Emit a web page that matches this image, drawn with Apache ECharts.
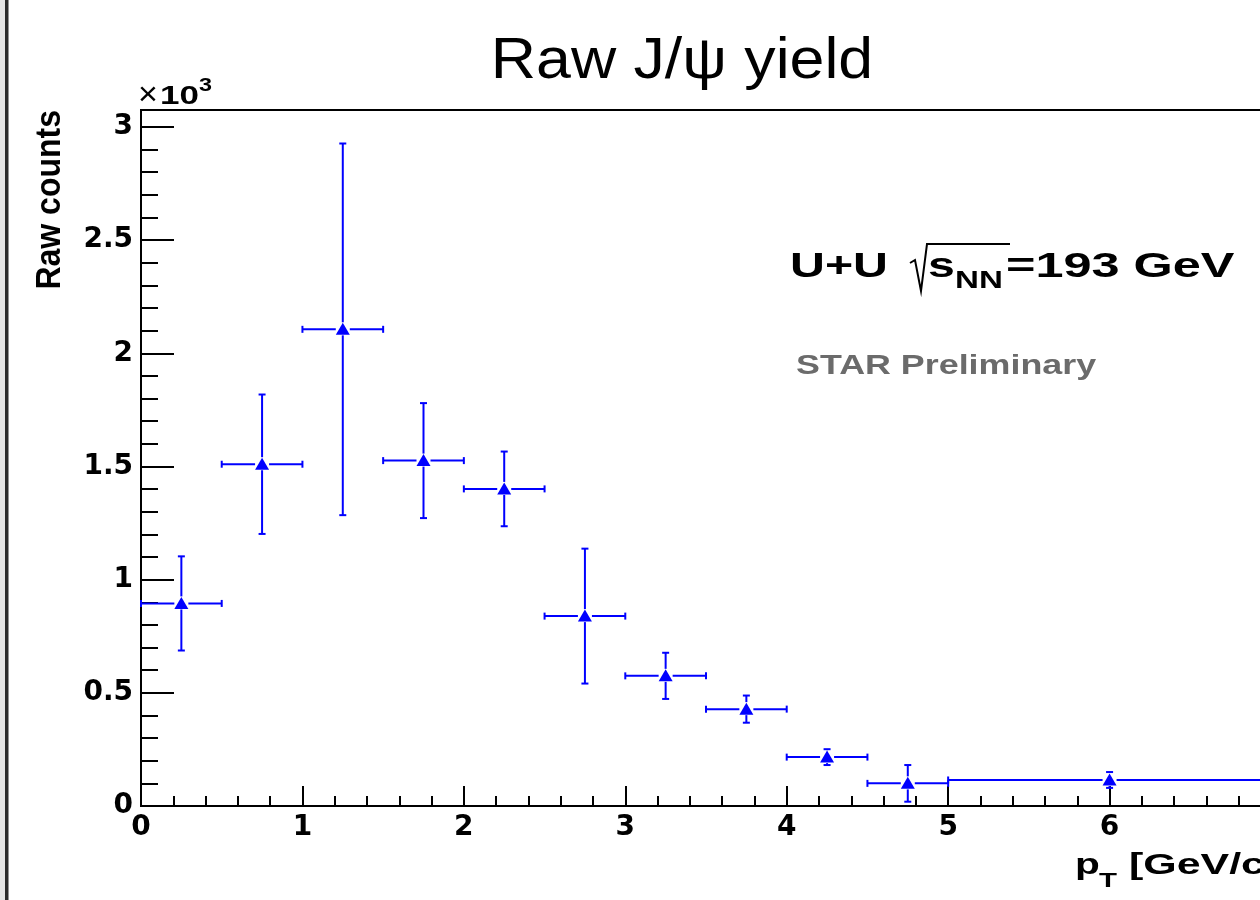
<!DOCTYPE html>
<html>
<head>
<meta charset="utf-8">
<script src="https://cdn.jsdelivr.net/npm/echarts@6/dist/echarts.min.js"></script>
<style>
html,body{margin:0;padding:0;background:#fff;}
#chart{width:1260px;height:900px;}
</style>
</head>
<body>
<div id="chart"></div>
<script>
// ---- data ----
const binLow  = [0, 0.5, 1, 1.5, 2, 2.5, 3, 3.5, 4, 4.5, 5];
const binHigh = [0.5, 1, 1.5, 2, 2.5, 3, 3.5, 4, 4.5, 5, 7];
const ptCenter = [0.25, 0.75, 1.25, 1.75, 2.25, 2.75, 3.25, 3.75, 4.25, 4.75, 6];
const rawCounts = [895, 1510, 2106, 1526, 1401, 839, 575, 428, 216, 100, 115];
const countErr  = [208, 308, 821, 254, 165, 298, 102, 60, 35, 81, 35];
const xTicks = [0, 1, 2, 3, 4, 5, 6, 7];
const yMax = 3075;

const SANS = "'Liberation Sans', Arial, Helvetica, sans-serif";
const BLUE = '#0000ff';

const seriesData = ptCenter.map((x, i) => [x, rawCounts[i], binLow[i], binHigh[i], countErr[i]]);

function renderItem(params, api) {
  const x = api.value(0), y = api.value(1), lo = api.value(2), hi = api.value(3), e = api.value(4);
  const c = api.coord([x, y]);
  const L = api.coord([lo, y]), R = api.coord([hi, y]);
  const T = api.coord([x, y + e]), B = api.coord([x, y - e]);
  const st = {stroke: BLUE, lineWidth: 2, fill: null};
  const cap = 3.5, g = 7;
  const ln = (x1, y1, x2, y2) => ({type: 'line', shape: {x1, y1, x2, y2}, style: st});
  const ch = [];
  if (c[0] - g > L[0]) ch.push(ln(L[0], c[1], c[0] - g, c[1]));
  if (R[0] > c[0] + g) ch.push(ln(c[0] + g, c[1], R[0], c[1]));
  if (T[1] < c[1] - 7) ch.push(ln(c[0], T[1], c[0], c[1] - 7));
  if (B[1] > c[1] + 6) ch.push(ln(c[0], c[1] + 6, c[0], B[1]));
  ch.push(ln(L[0], L[1] - cap, L[0], L[1] + cap));
  ch.push(ln(R[0], R[1] - cap, R[0], R[1] + cap));
  ch.push(ln(T[0] - cap, T[1], T[0] + cap, T[1]));
  ch.push(ln(B[0] - cap, B[1], B[0] + cap, B[1]));
  ch.push({type: 'polygon', shape: {points: [[c[0], c[1] - 6.5], [c[0] - 7, c[1] + 5.5], [c[0] + 7, c[1] + 5.5]]},
           style: {fill: BLUE, stroke: null}});
  return {type: 'group', children: ch};
}

function txt(x, y, text, font, opts) {
  opts = opts || {};
  return {
    type: 'text', x: x, y: y,
    rotation: opts.rotation || 0,
    scaleX: opts.scaleX || 1, scaleY: opts.scaleY || 1,
    style: {text: text, font: font, fill: opts.fill || '#000',
            align: opts.align || 'left', verticalAlign: opts.va || 'middle'}
  };
}

const chart = echarts.init(document.getElementById('chart'), null, {renderer: 'canvas'});
const option = {
  backgroundColor: '#fff',
  animation: false,
  grid: {left: 141, top: 110, width: 1130, height: 696, show: true, borderColor: '#000', borderWidth: 2,
         backgroundColor: 'transparent', containLabel: false, outerBoundsMode: 'none'},
  xAxis: {
    type: 'value', min: xTicks[0], max: xTicks[xTicks.length - 1], interval: 1,
    axisLine: {show: true, onZero: false, lineStyle: {color: '#000', width: 2}},
    axisTick: {show: true, inside: true, length: 20, lineStyle: {color: '#000', width: 2}},
    minorTick: {show: true, splitNumber: 5, length: 10, lineStyle: {color: '#000', width: 2}},
    splitLine: {show: false}, minorSplitLine: {show: false},
    axisLabel: {show: true, margin: 8, color: '#000', fontFamily: "'DejaVu Sans'", fontWeight: 'bold', fontSize: 28,
                formatter: v => String(v)}
  },
  yAxis: [{
    type: 'value', min: 0, max: yMax, interval: 500, position: 'left',
    axisLine: {show: true, onZero: false, lineStyle: {color: '#000', width: 2}},
    axisTick: {show: true, inside: true, length: 33, lineStyle: {color: '#000', width: 2}},
    splitLine: {show: false},
    axisLabel: {show: true, margin: 8, color: '#000', fontFamily: "'DejaVu Sans'", fontWeight: 'bold', fontSize: 28,
                showMaxLabel: false,
                formatter: v => (Math.abs(v % 500) < 1e-6 ? String(v / 1000) : '')}
  }, {
    type: 'value', min: 0, max: yMax, interval: 100, position: 'left',
    axisLine: {show: false},
    axisTick: {show: true, inside: true, length: 17, lineStyle: {color: '#000', width: 2}},
    splitLine: {show: false},
    axisLabel: {show: false}
  }],
  series: [{
    type: 'custom', xAxisIndex: 0, yAxisIndex: 0,
    renderItem: renderItem, data: seriesData, z: 5
  }],
  graphic: [
    {type: 'rect', shape: {x: 0, y: 0, width: 5, height: 900}, style: {fill: '#e4e4e4'}},
    {type: 'rect', shape: {x: 5, y: 0, width: 3.5, height: 900}, style: {fill: '#2b2b2b'}},
    txt(682, 62, 'Raw J/\u03c8 yield', 'normal 58px ' + SANS, {align: 'center', scaleX: 1.08}),
    txt(138, 96, '\u00d7', 'normal 34px ' + SANS),
    txt(160, 97, '10', 'bold 25px ' + SANS, {scaleX: 1.4}),
    txt(199, 86, '3', 'bold 18px ' + SANS, {scaleX: 1.3}),
    txt(50, 110, 'Raw counts', 'bold 32px ' + SANS, {rotation: Math.PI / 2, align: 'right', scaleY: 1.12}),
    // U+U sqrt(s_NN)=193 GeV
    txt(790, 267, 'U+U', 'bold 35px ' + SANS, {scaleX: 1.38}),
    {type: 'polyline', shape: {points: [[910, 263], [915, 260], [921, 291], [927, 244], [1010, 244]]},
     style: {stroke: '#000', lineWidth: 2, fill: null}},
    txt(928, 267, 's', 'bold 35px ' + SANS, {scaleX: 1.38}),
    txt(955, 281, 'NN', 'bold 24px ' + SANS, {scaleX: 1.38}),
    txt(1006, 267, '=193 GeV', 'bold 35px ' + SANS, {scaleX: 1.44}),
    txt(796, 366, 'STAR Preliminary', 'bold 28px ' + SANS, {scaleX: 1.28, fill: '#6b6b6b'}),
    // x axis title
    txt(1075, 866, 'p', 'bold 29px ' + SANS, {scaleX: 1.4}),
    txt(1099, 881, 'T', 'bold 21px ' + SANS, {scaleX: 1.4}),
    txt(1129, 866, '[GeV/c]', 'bold 29px ' + SANS, {scaleX: 1.48})
  ]
};
chart.setOption(option);
</script>
</body>
</html>
